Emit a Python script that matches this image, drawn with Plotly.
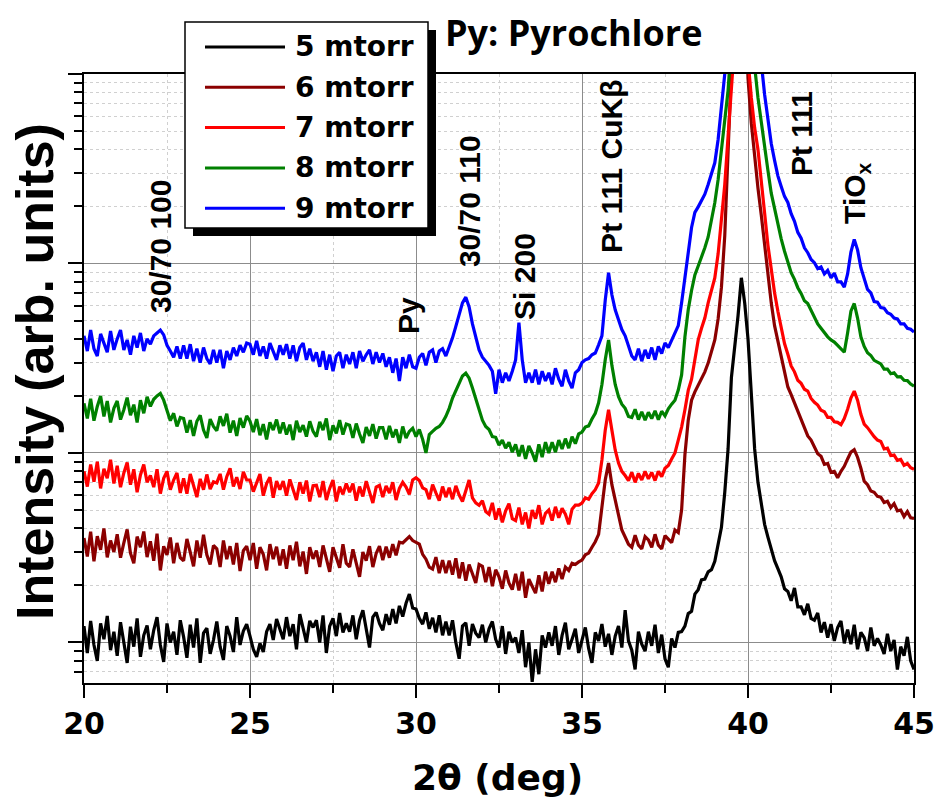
import numpy as np
import plotly.graph_objects as go

# 2-theta scan grid (deg), 0.1 deg step
two_theta = np.round(20.0 + 0.1 * np.arange(251), 1)

# Intensities (counts), one value per step
i_5mtorr = [
    122, 88, 130, 97, 80, 126, 104, 138, 91, 114,
    85, 128, 100, 78, 121, 95, 134, 84, 109, 123,
    92, 116, 136, 97, 79, 126, 100, 114, 86, 131,
    107, 83, 124, 94, 134, 78, 112, 119, 87, 103,
    129, 95, 81, 122, 108, 89, 136, 97, 115, 125,
    108, 92, 84, 99, 89, 114, 125, 103, 133, 118,
    104, 136, 108, 125, 92, 141, 116, 100, 130, 120,
    131, 100, 139, 88, 122, 134, 108, 143, 113, 126,
    114, 139, 104, 131, 148, 118, 94, 136, 144, 126,
    116, 141, 124, 150, 126, 156, 137, 161, 180, 152,
    150, 134, 125, 144, 118, 135, 113, 139, 109, 129,
    109, 131, 100, 82, 122, 127, 96, 125, 112, 106,
    124, 100, 118, 129, 104, 94, 122, 87, 114, 100,
    106, 88, 116, 74, 100, 62, 92, 68, 109, 94,
    113, 96, 122, 86, 109, 127, 92, 104, 118, 88,
    104, 120, 93, 78, 113, 102, 125, 95, 111, 86,
    108, 122, 94, 148, 102, 91, 72, 114, 98, 90,
    114, 96, 124, 88, 110, 82, 74, 105, 94, 113,
    114, 122, 142, 146, 180, 190, 214, 216, 236, 242,
    268, 330, 405, 620, 1050, 2500, 3600, 5300, 8400, 6200,
    4000, 2100, 1050, 700, 540, 420, 360, 310, 270, 245,
    222, 192, 186, 166, 194, 154, 154, 140, 160, 134,
    131, 143, 113, 128, 106, 125, 102, 120, 130, 99,
    117, 98, 124, 92, 113, 106, 90, 120, 96, 105,
    97, 87, 111, 90, 103, 72, 95, 85, 107, 80,
    72,
]

i_6mtorr = [
    356, 284, 384, 268, 364, 308, 400, 281, 345, 300,
    372, 280, 335, 395, 296, 262, 362, 318, 385, 282,
    342, 270, 375, 240, 322, 290, 358, 262, 335, 280,
    270, 352, 300, 252, 345, 280, 370, 290, 258, 325,
    312, 250, 345, 275, 322, 258, 335, 238, 305, 322,
    272, 335, 245, 318, 292, 240, 330, 275, 320, 255,
    310, 245, 325, 272, 340, 252, 302, 230, 318, 276,
    305, 250, 325, 272, 236, 318, 282, 248, 330, 262,
    250, 310, 262, 222, 300, 270, 322, 250, 295, 322,
    272, 320, 280, 330, 288, 338, 335, 350, 362, 345,
    338, 330, 292, 275, 250, 244, 282, 232, 272, 232,
    270, 228, 278, 218, 265, 212, 258, 230, 206, 258,
    252, 208, 250, 198, 242, 222, 192, 240, 206, 190,
    230, 188, 236, 172, 216, 198, 182, 226, 186, 236,
    204, 236, 208, 246, 216, 250, 240, 262, 258, 266,
    272, 290, 296, 318, 340, 372, 500, 720, 885, 680,
    565, 459, 392, 360, 330, 318, 368, 326, 312, 362,
    348, 318, 372, 326, 312, 366, 352, 336, 392, 380,
    500, 980, 1490, 1900, 2100, 2270, 2430, 2680, 2980, 3400,
    3950, 5100, 7500, 14000, 40000, 130000, 300000, 450000, 500000, 420000,
    95000, 55000, 36000, 25000, 18000, 12500, 8500, 6200, 4700, 3900,
    3200, 2620, 2230, 2030, 1830, 1680, 1480, 1370, 1230, 1170,
    1080, 990, 960, 870, 880, 790, 800, 740, 800, 850,
    930, 1010, 1040, 950, 830, 710, 680, 630, 620, 590,
    585, 548, 556, 515, 540, 495, 500, 462, 490, 455,
    452,
]

i_7mtorr = [
    800, 665, 870, 705, 900, 650, 825, 735, 920, 690,
    855, 660, 785, 890, 680, 820, 620, 765, 870, 700,
    760, 660, 820, 610, 735, 800, 640, 720, 785, 615,
    735, 610, 775, 670, 585, 730, 640, 770, 645, 705,
    695, 775, 640, 750, 830, 665, 745, 645, 795, 720,
    720, 625, 705, 775, 595, 690, 745, 580, 710, 640,
    710, 595, 725, 630, 565, 700, 610, 715, 555, 672,
    675, 585, 710, 565, 650, 720, 555, 665, 605, 690,
    620, 690, 560, 665, 590, 710, 615, 545, 660, 675,
    585, 670, 615, 700, 565, 650, 700, 660, 605, 720,
    740, 715, 655, 640, 570, 680, 615, 560, 665, 585,
    655, 570, 670, 600, 555, 640, 720, 580, 545, 530,
    560, 490, 475, 545, 445, 510, 430, 495, 540, 450,
    440, 515, 420, 485, 400, 500, 450, 530, 420, 480,
    500, 440, 520, 455, 510, 475, 420, 505, 530, 530,
    544, 580, 570, 610, 640, 694, 918, 1320, 1690, 1320,
    1037, 885, 800, 760, 715, 790, 700, 780, 720, 800,
    730, 790, 715, 800, 750, 830, 860, 930, 1000, 1170,
    1370, 1690, 2140, 2450, 3100, 3950, 4550, 5150, 6200, 7100,
    8380, 11250, 16900, 26100, 46800, 78000, 150000, 300000, 500000, 500000,
    120000, 75000, 52000, 40000, 26000, 18500, 12500, 9300, 7000, 5600,
    4500, 3780, 3320, 2880, 2680, 2420, 2330, 2170, 2120, 1940,
    1850, 1790, 1680, 1650, 1540, 1540, 1460, 1450, 1410, 1520,
    1700, 1950, 2120, 1900, 1600, 1420, 1360, 1280, 1220, 1170,
    1150, 1050, 1060, 970, 975, 915, 925, 860, 880, 835,
    820,
]

i_8mtorr = [
    1830, 1520, 1930, 1480, 1760, 2000, 1560, 1880, 1450, 1720,
    1880, 1500, 1690, 1960, 1580, 1800, 1450, 1900, 1620, 1980,
    1760, 1920, 2000, 2060, 1900, 1700, 1480, 1620, 1380, 1540,
    1520, 1280, 1490, 1230, 1470, 1580, 1320, 1200, 1510, 1380,
    1310, 1560, 1390, 1610, 1280, 1480, 1230, 1530, 1360, 1570,
    1470, 1290, 1510, 1240, 1420, 1180, 1450, 1320, 1500, 1270,
    1450, 1250, 1410, 1170, 1480, 1290, 1400, 1220, 1470, 1300,
    1220, 1460, 1320, 1520, 1170, 1400, 1270, 1490, 1250, 1420,
    1400, 1200, 1430, 1260, 1130, 1370, 1230, 1420, 1190, 1360,
    1360, 1180, 1390, 1210, 1330, 1130, 1380, 1200, 1300, 1350,
    1220, 1330, 1180, 1000, 1250, 1300, 1350, 1380, 1450, 1560,
    1720, 1950, 2150, 2370, 2550, 2640, 2480, 2200, 1950, 1690,
    1490, 1380, 1330, 1220, 1210, 1100, 1170, 1060, 1140, 1010,
    1110, 960, 1100, 930, 1090, 1000, 900, 1110, 950, 1140,
    1000, 1140, 1010, 1170, 1050, 1190, 1060, 1220, 1120, 1260,
    1290, 1370, 1390, 1510, 1620, 1840, 2300, 3100, 3950, 2900,
    2300, 1980, 1810, 1720, 1560, 1540, 1700, 1500, 1650, 1490,
    1640, 1520, 1670, 1500, 1660, 1570, 1710, 1810, 1900, 2150,
    2580, 4100, 5700, 7200, 8700, 9700, 10700, 12100, 13800, 16900,
    20900, 27700, 39700, 53700, 82000, 150000, 300000, 500000, 600000, 600000,
    400000, 200000, 110000, 75000, 55000, 42000, 31000, 23500, 19500, 16000,
    13500, 11600, 10100, 8950, 8250, 7450, 6950, 6350, 6150, 5650,
    5250, 4800, 4550, 4300, 4100, 3950, 3850, 3700, 3560, 3400,
    4300, 5600, 6150, 5150, 4100, 3650, 3380, 3270, 3080, 3020,
    2950, 2770, 2770, 2620, 2650, 2520, 2530, 2420, 2410, 2310,
    2250,
]

i_9mtorr = [
    4150, 3450, 4450, 3550, 3250, 4250, 3800, 3400, 4400, 3500,
    4000, 4450, 3500, 3950, 3300, 4150, 3600, 4300, 3450, 4000,
    3750, 4150, 4300, 4450, 4200, 3700, 3450, 3200, 3650, 3150,
    3700, 3150, 3750, 3050, 3550, 3000, 3600, 3150, 2950, 3500,
    3000, 3500, 2800, 3450, 3100, 3600, 3250, 3700, 3400, 3800,
    3750, 3300, 3900, 3250, 3650, 3150, 3800, 3400, 3100, 3700,
    3300, 3750, 3150, 3700, 3050, 3600, 3800, 3100, 3550, 3050,
    3400, 2850, 3450, 2750, 3300, 2700, 3250, 3400, 2800, 3300,
    2950, 3400, 2800, 3450, 3050, 3300, 3500, 2950, 3400, 3000,
    3350, 2850, 3200, 2650, 3150, 2400, 3200, 2800, 3300, 2850,
    2800, 3200, 3350, 2900, 3400, 3500, 3000, 3450, 3550, 3250,
    3600, 4050, 4660, 5370, 6200, 6640, 5900, 4800, 4050, 3500,
    3200, 3050, 2900, 2700, 2050, 2750, 2350, 2650, 2400, 2700,
    3100, 4870, 3100, 2350, 2650, 2350, 2750, 2300, 2700, 2400,
    2650, 2300, 2800, 2450, 2250, 2750, 2400, 2200, 2650, 2750,
    3000, 3100, 3150, 3300, 3370, 3720, 4150, 6410, 8940, 6840,
    5700, 5050, 4480, 4150, 3650, 3250, 3100, 3550, 3050, 3500,
    3150, 3600, 3100, 3650, 3350, 3810, 3600, 3950, 4300, 4700,
    6200, 8190, 11400, 15500, 18600, 19900, 21500, 23200, 26100, 29400,
    34000, 45100, 65000, 100000, 180000, 350000, 600000, 800000, 900000, 900000,
    800000, 600000, 400000, 250000, 115000, 78000, 56000, 43000, 35000, 29000,
    25500, 22600, 21000, 18300, 16700, 14600, 13600, 12100, 11400, 10500,
    10100, 9400, 9600, 8800, 9200, 8400, 8900, 8000, 8000, 7500,
    8800, 11500, 13400, 11800, 9500, 8400, 7300, 7000, 6300, 6250,
    5850, 5800, 5500, 5400, 5150, 5100, 4800, 4800, 4550, 4500,
    4350,
]

series_names = ["5 mtorr", "6 mtorr", "7 mtorr", "8 mtorr", "9 mtorr"]
series_data = [i_5mtorr, i_6mtorr, i_7mtorr, i_8mtorr, i_9mtorr]
series_colors = ["#000000", "#8b0000", "#ff0000", "#008000", "#0000ff"]

peak_labels = ["30/70 100", "Py", "30/70 110", "Si 200", "Pt 111 CuK\u03b2", "Pt 111", "TiO<sub>x</sub>"]
peak_label_pos = [22.29, 29.76, 31.60, 33.25, 35.87, 41.60, 43.25]
x_ticks = [20, 25, 30, 35, 40, 45]

# page geometry (pixels)
W, H = 936, 806
PL, PT, PW, PH = 84, 74, 830, 609


def px(x):
    return (x - PL) / PW


def py(y):
    return (PT + PH - y) / PH


BOLD_WIDE = "DejaVu Sans"
BOLD_ARIAL = "Liberation Sans, Arial"

fig = go.Figure()
for name, vals, col in zip(series_names, series_data, series_colors):
    fig.add_trace(go.Scatter(
        x=two_theta, y=vals, mode="lines", name=name,
        line=dict(color=col, width=3.2), showlegend=False,
    ))

grid_major = "#8c8c8c"
grid_minor = "#d0d0d0"

fig.update_xaxes(
    range=[20, 45], tickvals=x_ticks, ticktext=[str(t) for t in x_ticks],
    ticks="outside", ticklen=13, tickwidth=2, tickcolor="black",
    showline=True, mirror=True, linewidth=2, linecolor="black",
    showgrid=True, gridcolor=grid_major, gridwidth=1,
    zeroline=False, automargin=False,
    tickfont=dict(family=BOLD_WIDE, size=30, color="black", weight="bold"),
    minor=dict(dtick=2.5, tick0=20, ticks="outside", ticklen=8, tickwidth=2,
               tickcolor="black", showgrid=True, gridcolor=grid_minor, griddash="dot"),
)
fig.update_yaxes(
    type="log", range=[1.786, 5.0], dtick=1,
    showticklabels=False,
    ticks="outside", ticklen=14, tickwidth=2, tickcolor="black",
    showline=True, mirror=True, linewidth=2, linecolor="black",
    showgrid=True, gridcolor=grid_major, gridwidth=1,
    zeroline=False, automargin=False,
    minor=dict(dtick="D1", ticks="outside", ticklen=8, tickwidth=1.5,
               tickcolor="black", showgrid=True, gridcolor=grid_minor, griddash="dot"),
)

annotations = []
peak_label_y = [247, 316, 201, 276, 166, 134, 193]
for txt, xpos, ypix in zip(peak_labels, peak_label_pos, peak_label_y):
    annotations.append(dict(
        x=xpos, xref="x", y=py(ypix), yref="paper", text=txt, textangle=-90,
        showarrow=False, xanchor="center", yanchor="middle",
        font=dict(family=BOLD_ARIAL, size=30, color="black", weight="bold"),
    ))

# axis titles
annotations.append(dict(
    x=px(497), y=py(777), xref="paper", yref="paper", text="2\u03b8 (deg)",
    showarrow=False, xanchor="center", yanchor="middle",
    font=dict(family=BOLD_WIDE, size=36, color="black", weight="bold"),
))
annotations.append(dict(
    x=px(35), y=py(372), xref="paper", yref="paper", text="Intensity (arb. units)",
    textangle=-90, showarrow=False, xanchor="center", yanchor="middle",
    font=dict(family=BOLD_ARIAL, size=52, color="black", weight="bold"),
))
# heading
annotations.append(dict(
    x=px(443), y=py(33), xref="paper", yref="paper", text="Py: Pyrochlore",
    showarrow=False, xanchor="left", yanchor="middle",
    font=dict(family="Open Sans", size=36, color="black", weight="bold"),
))

# legend box with drop shadow
shapes = [
    dict(type="rect", xref="paper", yref="paper", layer="above",
         x0=px(193), x1=px(436), y0=py(236), y1=py(30),
         fillcolor="black", line=dict(width=0)),
    dict(type="rect", xref="paper", yref="paper", layer="above",
         x0=px(185), x1=px(428), y0=py(228), y1=py(22),
         fillcolor="white", line=dict(color="black", width=1.5)),
]
for k, (name, col) in enumerate(zip(series_names, series_colors)):
    ry = 47 + 40.3 * k
    shapes.append(dict(type="line", xref="paper", yref="paper", layer="above",
                       x0=px(205), x1=px(285), y0=py(ry), y1=py(ry),
                       line=dict(color=col, width=3)))
    annotations.append(dict(
        x=px(293), y=py(ry), xref="paper", yref="paper", text=name,
        showarrow=False, xanchor="left", yanchor="middle",
        font=dict(family=BOLD_WIDE, size=28, color="black", weight="bold"),
    ))

fig.update_layout(
    width=W, height=H,
    margin=dict(l=PL, r=W - PL - PW, t=PT, b=H - PT - PH),
    paper_bgcolor="white", plot_bgcolor="white",
    annotations=annotations, shapes=shapes,
    showlegend=False,
)

fig.write_html("out.html")
